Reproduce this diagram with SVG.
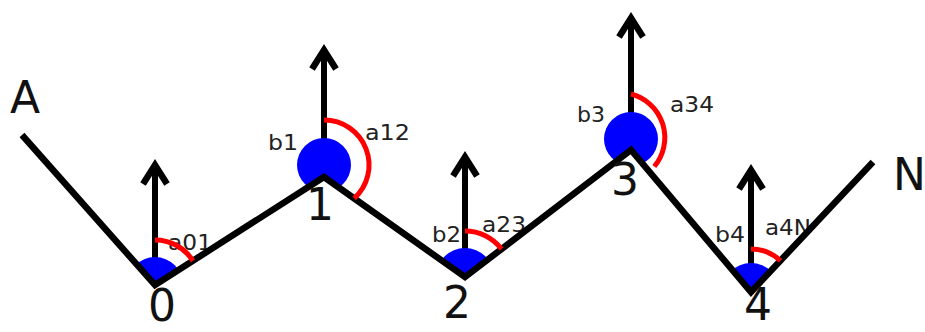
<svg xmlns="http://www.w3.org/2000/svg" width="925" height="332" viewBox="0 0 925 332">
<style>
.line{fill:none;stroke:#000;stroke-width:6.5;stroke-linejoin:miter}
.arrow{fill:none;stroke:#000;stroke-width:6}
.dot{fill:#0000ff}
.arc{fill:none;stroke:#ff0000;stroke-width:5}
.sm{font-family:"DejaVu Sans",Verdana,sans-serif;font-size:22px;fill:#222}
.big{font-family:"DejaVu Sans",Verdana,sans-serif;font-size:44px;fill:#111}
</style>
<defs>
<marker id="ah" markerUnits="userSpaceOnUse" markerWidth="40" markerHeight="40" viewBox="-30 -20 40 40" refX="0" refY="0" orient="auto" overflow="visible">
<path d="M-19,-12 L0,0 L-19,12" fill="none" stroke="#000" stroke-width="6.5"/>
</marker>
<clipPath id="above">
<polygon points="22,135 155,285 324,177 465,277 631,150 751,292 873,162 873,0 22,0"/>
</clipPath>
</defs>
<g id="arrows">
<path class="arrow" d="M155,285 V165" marker-end="url(#ah)"/>
<path class="arrow" d="M324,165 V50" marker-end="url(#ah)"/>
<path class="arrow" d="M465,277 V157" marker-end="url(#ah)"/>
<path class="arrow" d="M631,139 V18" marker-end="url(#ah)"/>
<path class="arrow" d="M751,292 V170" marker-end="url(#ah)"/>
</g>
<g id="angle-labels">
<text class="sm" x="168" y="250" textLength="44" lengthAdjust="spacingAndGlyphs">a01</text>
<text class="sm" x="268" y="150" textLength="30" lengthAdjust="spacingAndGlyphs">b1</text>
<text class="sm" x="365" y="140" textLength="45" lengthAdjust="spacingAndGlyphs">a12</text>
<text class="sm" x="432" y="242" textLength="29" lengthAdjust="spacingAndGlyphs">b2</text>
<text class="sm" x="482" y="232" textLength="44" lengthAdjust="spacingAndGlyphs">a23</text>
<text class="sm" x="577" y="122" textLength="28" lengthAdjust="spacingAndGlyphs">b3</text>
<text class="sm" x="670" y="112" textLength="44" lengthAdjust="spacingAndGlyphs">a34</text>
<text class="sm" x="715" y="242" textLength="30" lengthAdjust="spacingAndGlyphs">b4</text>
<text class="sm" x="765" y="235" textLength="46" lengthAdjust="spacingAndGlyphs">a4N</text>
</g>
<g id="dots">
<circle class="dot" cx="155" cy="285" r="28" clip-path="url(#above)"/>
<circle class="dot" cx="324" cy="165" r="27" clip-path="url(#above)"/>
<circle class="dot" cx="465" cy="277" r="29" clip-path="url(#above)"/>
<circle class="dot" cx="631" cy="139" r="27" clip-path="url(#above)"/>
<circle class="dot" cx="751" cy="292" r="29" clip-path="url(#above)"/>
</g>
<g id="connectors">
<polyline class="line" points="22,135 155,285 324,177 465,277 631,150 751,292 873,162"/>
</g>
<g id="node-0">
<path class="arc" d="M155,240 A45,45 0 0 1 192.9,260.8"/>
<text class="big" x="162" y="321" text-anchor="middle">0</text>
</g>
<g id="node-1">
<path class="arc" d="M324,120 A45,45 0 0 1 354.2,198.4"/>
<text class="big" x="320" y="220" text-anchor="middle">1</text>
</g>
<g id="node-2">
<path class="arc" d="M465,231 A46,46 0 0 1 501.5,249"/>
<text class="big" x="457" y="318" text-anchor="middle">2</text>
</g>
<g id="node-3">
<path class="arc" d="M631,94 A45,45 0 0 1 654.3,166.5"/>
<text class="big" x="625" y="195" text-anchor="middle">3</text>
</g>
<g id="node-4">
<path class="arc" d="M751,249 A43,43 0 0 1 780.4,260.7"/>
<text class="big" x="758" y="320" text-anchor="middle">4</text>
</g>
<g id="node-A">
<text class="big" x="10" y="113" font-size="47">A</text>
</g>
<g id="node-N">
<text class="big" x="893" y="190" font-size="47">N</text>
</g>
</svg>
